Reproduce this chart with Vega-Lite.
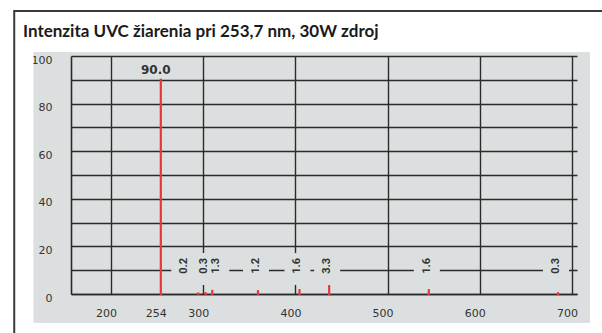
{
  "$schema": "https://vega.github.io/schema/vega-lite/v6.json",
  "width": 506,
  "height": 238,
  "autosize": {"type": "none"},
  "padding": {"left": 71, "top": 56, "right": 25, "bottom": 39},
  "background": "#dcdfdf",
  "title": {
    "text": "Intenzita UVC žiarenia pri 253,7 nm, 30W zdroj",
    "anchor": "start",
    "frame": "group",
    "dx": -48,
    "dy": 49,
    "offset": 0,
    "font": "Lato",
    "fontSize": 17,
    "fontWeight": "bold",
    "color": "#1a1a1a"
  },
  "config": {"view": {"stroke": null}},
  "datasets": {
    "lines": [
      {"wl": 254, "v": 90.0, "label": "90.0"},
      {"wl": 294.6, "v": 0.2, "label": "0.2"},
      {"wl": 302.7, "v": 0.3, "label": "0.3"},
      {"wl": 309.8, "v": 1.3, "label": "1.3"},
      {"wl": 359.4, "v": 1.2, "label": "1.2"},
      {"wl": 404.4, "v": 1.6, "label": "1.6"},
      {"wl": 436.6, "v": 3.3, "label": "3.3"},
      {"wl": 544.7, "v": 1.6, "label": "1.6"},
      {"wl": 684.8, "v": 0.3, "label": "0.3"}
    ],
    "one": [{"k": 1}]
  },
  "encoding": {
    "x": {
      "type": "quantitative",
      "scale": {"domain": [162, 700], "nice": false, "zero": false},
      "axis": {
        "values": [200, 254, 300, 400, 500, 600, 700],
        "title": null,
        "grid": true,
        "gridColor": {"condition": {"test": "datum.value == 254", "value": "transparent"}, "value": "#2b2b2b"},
        "gridWidth": 1.4,
        "domain": true,
        "domainColor": "#2b2b2b",
        "domainWidth": 1.6,
        "ticks": false,
        "labelPadding": 13,
        "labelOffset": -5,
        "labelFlush": false,
        "labelOverlap": false,
        "labelFont": "DejaVu Sans",
        "labelFontSize": 11,
        "labelColor": "#333333"
      }
    },
    "y": {
      "type": "quantitative",
      "scale": {"domain": [0, 100], "nice": false, "zero": false},
      "axis": {
        "values": [0, 10, 20, 30, 40, 50, 60, 70, 80, 90, 100],
        "title": null,
        "grid": true,
        "gridColor": "#2b2b2b",
        "gridWidth": 1.4,
        "domain": true,
        "domainColor": "#2b2b2b",
        "domainWidth": 1.6,
        "ticks": false,
        "labelPadding": 19,
        "labelOffset": 4,
        "labelExpr": "datum.value % 20 == 0 ? datum.label : ''",
        "labelFont": "DejaVu Sans",
        "labelFontSize": 11,
        "labelColor": "#333333"
      }
    }
  },
  "layer": [
    {
      "data": {"name": "one"},
      "mark": {"type": "rect", "fill": null, "stroke": "#ffffff", "strokeWidth": 60},
      "encoding": {
        "x": {"datum": 83.3, "type": "quantitative"},
        "x2": {"datum": 752},
        "y": {"datum": 114.3, "type": "quantitative"},
        "y2": {"datum": -24.8}
      }
    },
    {
      "data": {"name": "one"},
      "mark": {"type": "rect", "fill": null, "stroke": "#3a3a3a", "strokeWidth": 2},
      "encoding": {
        "x": {"datum": 95.0, "type": "quantitative"},
        "x2": {"datum": 800},
        "y": {"datum": 118.9, "type": "quantitative"},
        "y2": {"datum": -50}
      }
    },
    {
      "data": {"name": "lines"},
      "mark": {"type": "rule", "color": "#e5383b", "strokeWidth": 2.2, "strokeCap": "square"},
      "encoding": {
        "x": {"field": "wl", "type": "quantitative"},
        "y": {"field": "v", "type": "quantitative"},
        "y2": {"datum": 0}
      }
    },
    {
      "data": {"name": "lines"},
      "transform": [{"filter": "datum.v < 50 && datum.wl < 300"}],
      "mark": {"type": "bar", "color": "#dcdfdf", "width": 26, "xOffset": -14},
      "encoding": {
        "x": {"field": "wl", "type": "quantitative"},
        "y": {"datum": 3.8, "type": "quantitative"},
        "y2": {"datum": 17.2}
      }
    },
    {
      "data": {"name": "lines"},
      "transform": [{"filter": "datum.v < 50 && datum.wl > 305 && datum.wl < 320"}],
      "mark": {"type": "bar", "color": "#dcdfdf", "width": 26, "xOffset": 4},
      "encoding": {
        "x": {"field": "wl", "type": "quantitative"},
        "y": {"datum": 3.8, "type": "quantitative"},
        "y2": {"datum": 17.2}
      }
    },
    {
      "data": {"name": "lines"},
      "transform": [{"filter": "datum.v < 50 && (datum.wl > 320 || (datum.wl > 300 && datum.wl < 305))"}],
      "mark": {"type": "bar", "color": "#dcdfdf", "width": 26, "xOffset": -2},
      "encoding": {
        "x": {"field": "wl", "type": "quantitative"},
        "y": {"datum": 3.8, "type": "quantitative"},
        "y2": {"datum": 17.2}
      }
    },
    {
      "data": {"name": "lines"},
      "transform": [{"filter": "datum.v < 50"}],
      "mark": {
        "type": "text",
        "angle": 270,
        "align": "center",
        "baseline": "middle",
        "font": "Roboto",
        "fontSize": 11,
        "fontWeight": "bold",
        "color": "#333333",
        "dy": {"expr": "datum.wl < 300 ? -14 : (datum.wl > 305 && datum.wl < 320 ? 4 : -2)"}
      },
      "encoding": {
        "x": {"field": "wl", "type": "quantitative"},
        "y": {"datum": 11.8, "type": "quantitative"},
        "text": {"field": "label"}
      }
    },
    {
      "data": {"name": "lines"},
      "transform": [{"filter": "datum.v > 50"}],
      "mark": {
        "type": "text",
        "align": "center",
        "baseline": "bottom",
        "dy": -3,
        "dx": -5,
        "font": "DejaVu Sans",
        "fontSize": 12,
        "fontWeight": "bold",
        "color": "#333333"
      },
      "encoding": {
        "x": {"field": "wl", "type": "quantitative"},
        "y": {"field": "v", "type": "quantitative"},
        "text": {"field": "label"}
      }
    }
  ]
}
